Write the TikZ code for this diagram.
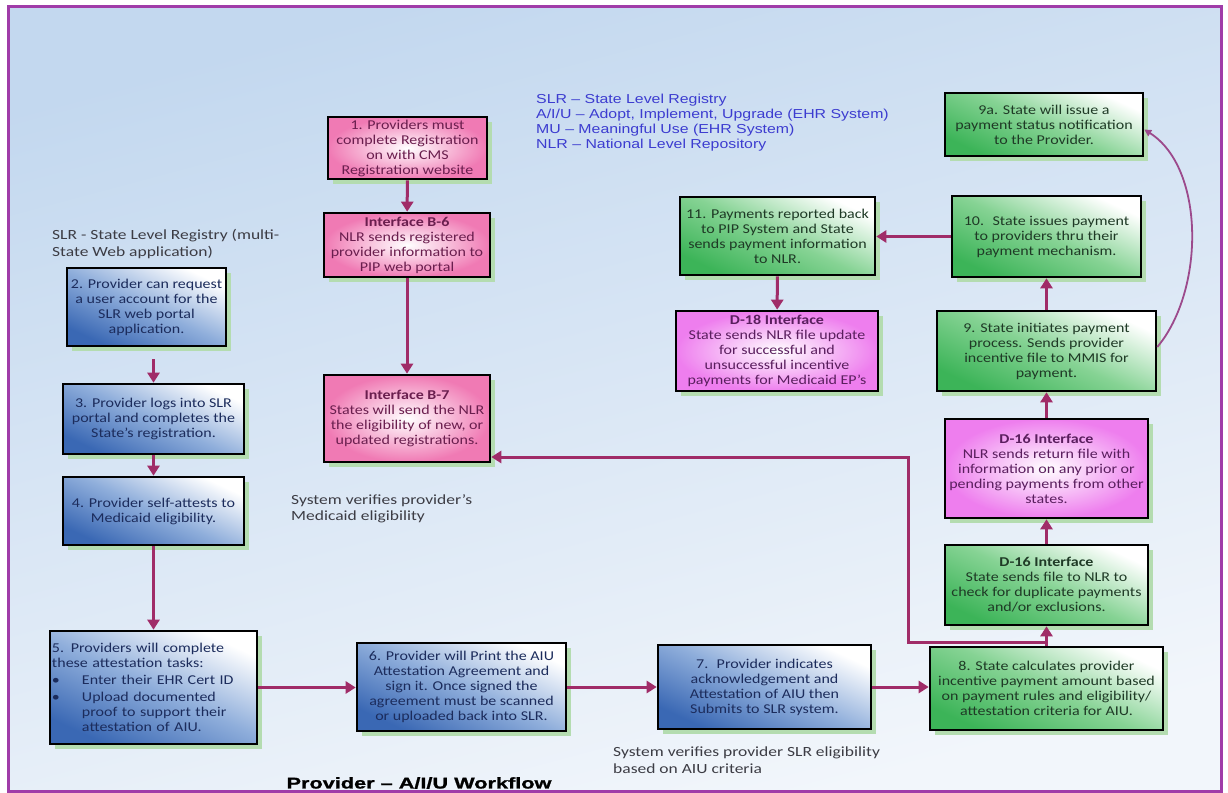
\documentclass[tikz,border=0pt]{standalone}
\usepackage{fontspec}
\setmainfont{Carlito}[FakeStretch=1.185]
\newfontfamily\notefont{Carlito}[FakeStretch=1.25]
\newfontfamily\legendfont{Liberation Sans}[FakeStretch=1.22]
\newfontfamily\titlefont{Liberation Sans}[FakeStretch=1.4,FakeBold=1.2]
\usetikzlibrary{arrows.meta,shadows}
\definecolor{bgtop}{HTML}{C3D8EF}
\definecolor{bgbot}{HTML}{F2F6FB}
\definecolor{framecol}{HTML}{A03CA8}
\definecolor{arrcol}{HTML}{A02C68}
\definecolor{curvecol}{HTML}{9C4A8C}
\definecolor{shadowgreen}{HTML}{B4DCB0}
\definecolor{pinkout}{HTML}{F07AB4}
\definecolor{magout}{HTML}{EE7EEE}
\definecolor{blueout}{HTML}{3A68B4}
\definecolor{bluemid}{HTML}{8FAEDB}
\definecolor{greenout}{HTML}{3CB458}
\definecolor{greenmid}{HTML}{86D394}
\definecolor{pinktext}{HTML}{6A1E4E}
\definecolor{magtext}{HTML}{5A1E5E}
\definecolor{bluetext}{HTML}{1C2C5C}
\definecolor{greentext}{HTML}{1F3A26}
\definecolor{legendblue}{HTML}{3C3CD0}
\definecolor{notetext}{HTML}{3C3C44}
\tikzset{
  boxbase/.style={draw=black, line width=2.6bp, inner sep=0pt, align=center,
    font=\fontsize{13.5bp}{15bp}\selectfont,
    general shadow={fill=shadowgreen, shadow xshift=5bp, shadow yshift=-5bp}},
  pinkbox/.style={boxbase, inner color=white, outer color=pinkout, text=pinktext},
  magbox/.style={boxbase, inner color=white, outer color=magout, text=magtext},
  bluebox/.style={boxbase, top color=white, bottom color=blueout, middle color=bluemid, shading angle=-25, text=bluetext},
  greenbox/.style={boxbase, top color=white, bottom color=greenout, middle color=greenmid, shading angle=-25, text=greentext},
  arr/.style={draw=arrcol, line width=3bp, -{Triangle[width=12bp,length=10bp]}},
  curvearr/.style={draw=curvecol, line width=1.8bp, -{Triangle[width=7bp,length=7bp]}},
  note/.style={text=notetext, align=left, inner sep=0pt, font=\notefont\fontsize{14bp}{16.5bp}\selectfont}
}
\begin{document}
\begin{tikzpicture}[x=1bp,y=-1bp]
\useasboundingbox (0,0) rectangle (1228,793);
\fill[white] (0,0) rectangle (1228,793);
\shade[top color=bgtop, bottom color=bgbot, shading angle=15] (8,7) rectangle (1221,791);
\draw[framecol, line width=3bp] (8,7) rectangle (1221,791);

% legend
\node[anchor=north west, align=left, text=legendblue, inner sep=0pt,
  font=\legendfont\fontsize{13bp}{15bp}\selectfont] (legend) at (536,94)
  {SLR – State Level Registry\\
   A/I/U – Adopt, Implement, Upgrade (EHR System)\\
   MU – Meaningful Use (EHR System)\\
   NLR – National Level Repository};

% notes
\node[note, anchor=west] (slrhead) at (52,244)
  {SLR - State Level Registry (multi-\\State Web application)};
\node[note, anchor=west] (note1) at (291,509)
  {System verifies provider’s\\Medicaid eligibility};
\node[note, anchor=west] (note2) at (613,760)
  {System verifies provider SLR eligibility\\based on AIU criteria};
\node[inner sep=0pt, text=black, font=\titlefont\bfseries\fontsize{15.5bp}{18bp}\selectfont] (title) at (419,783)
  {Provider – A/I/U Workflow};

% pink column
\node[pinkbox, minimum width=159bp, minimum height=62bp] (b1) at (407.5,148)
  {1. Providers must\\complete Registration\\on with CMS\\Registration website};
\node[pinkbox, minimum width=166bp, minimum height=64bp] (b6) at (407,245)
  {\textbf{Interface B-6}\\NLR sends registered\\provider information to\\PIP web portal};
\node[pinkbox, minimum width=166bp, minimum height=87bp] (b7) at (407,418.5)
  {\textbf{Interface B-7}\\States will send the NLR\\the eligibility of new, or\\updated registrations.};

% blue column
\node[bluebox, minimum width=159bp, minimum height=78bp] (s2) at (146.5,307)
  {2. Provider can request\\a user account for the\\SLR web portal\\application.};
\node[bluebox, minimum width=181bp, minimum height=70bp] (s3) at (153.5,419)
  {3. Provider logs into SLR\\portal and completes the\\State’s registration.};
\node[bluebox, minimum width=181bp, minimum height=68bp] (s4) at (153.5,511)
  {4. Provider self-attests to\\Medicaid eligibility.};
\node[bluebox, minimum width=207bp, minimum height=113bp, align=left, text width=203bp] (s5) at (153.5,687.5)
  {5. Providers will complete\\these attestation tasks:\\[2bp]
   \makebox[30bp][l]{\textbullet}Enter their EHR Cert ID\\[2bp]
   \makebox[30bp][l]{\textbullet}Upload documented\\
   \hspace*{30bp}proof to support their\\
   \hspace*{30bp}attestation of AIU.};
\node[bluebox, minimum width=209bp, minimum height=88bp] (s6) at (461.5,687)
  {6. Provider will Print the AIU\\Attestation Agreement and\\sign it. Once signed the\\agreement must be scanned\\or uploaded back into SLR.};
\node[bluebox, minimum width=213bp, minimum height=84bp] (s7) at (764.5,687)
  {7.~ Provider indicates\\acknowledgement and\\Attestation of AIU then\\Submits to SLR system.};

% right column
\node[greenbox, minimum width=233bp, minimum height=83bp] (s8) at (1046.5,688.5)
  {8. State calculates provider\\incentive payment amount based\\on payment rules and eligibility/\\attestation criteria for AIU.};
\node[greenbox, minimum width=203bp, minimum height=80bp] (d16a) at (1046.5,585)
  {\textbf{D-16 Interface}\\State sends file to NLR to\\check for duplicate payments\\and/or exclusions.};
\node[magbox, minimum width=203bp, minimum height=99bp] (d16b) at (1046.5,468.5)
  {\textbf{D-16 Interface}\\NLR sends return file with\\information on any prior or\\pending payments from other\\states.};
\node[greenbox, minimum width=219bp, minimum height=80bp] (s9) at (1046.5,351)
  {9. State initiates payment\\process. Sends provider\\incentive file to MMIS for\\payment.};
\node[greenbox, minimum width=189bp, minimum height=81bp] (s10) at (1046.5,236.5)
  {10.~ State issues payment\\to providers thru their\\payment mechanism.};
\node[greenbox, minimum width=198bp, minimum height=63bp] (s9a) at (1044,124.5)
  {9a. State will issue a\\payment status notification\\to the Provider.};
\node[greenbox, minimum width=195bp, minimum height=78bp] (s11) at (777.5,236)
  {11. Payments reported back\\to PIP System and State\\sends payment information\\to NLR.};
\node[magbox, minimum width=202bp, minimum height=80bp] (d18) at (777,351)
  {\textbf{D-18 Interface}\\State sends NLR file update\\for successful and\\unsuccessful incentive\\payments for Medicaid EP’s};

% connectors
\draw[arr] (b1) -- (b6);
\draw[arr] (b6) -- (b7);
\draw[arr] ([yshift=-12bp]s2.south -| s3.north) -- (s3.north);
\draw[arr] (s3) -- (s4);
\draw[arr] (s4) -- (s5);
\draw[arr] (s5.east) -- (s5.east -| s6.west);
\draw[arr] (s6.east) -- (s6.east -| s7.west);
\draw[arr] (s7.east) -- (s7.east -| s8.west);
\draw[arr] (s8) -- (d16a);
\draw[arr] (d16a) -- (d16b);
\draw[arr] (d16b) -- (s9);
\draw[arr] (s9) -- (s10);
\draw[arr] (s10.west) -- (s10.west -| s11.east);
\draw[arr] (s11) -- (d18);
\coordinate (k1) at (908,642);
\coordinate (k2) at (908,457);
\draw[arr] (s8.north) -- (s8.north |- k1) -- (k1) -- (k2) -- (k2 -| b7.east);
\draw[curvearr] ([yshift=4bp]s9.east) .. controls (1205,290) and (1205,168) .. ([yshift=-5bp]s9a.east);
\end{tikzpicture}
\end{document}
